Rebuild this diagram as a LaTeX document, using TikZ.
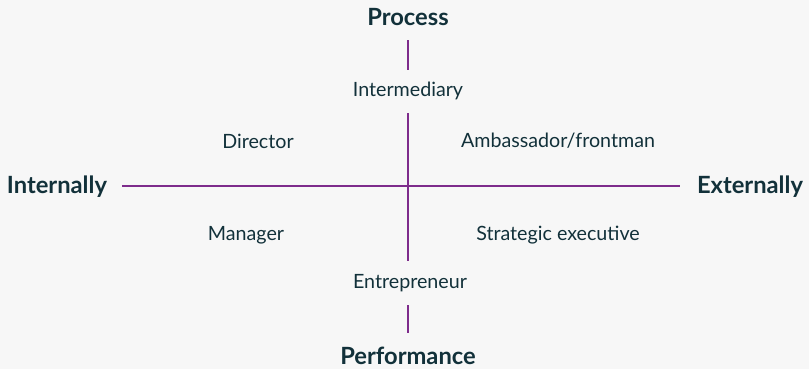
\documentclass[tikz,border=0pt]{standalone}
\usepackage{fontspec}
\setmainfont{Lato}
\usepackage{xcolor}
\usetikzlibrary{positioning,calc}
\definecolor{bgGrey}{HTML}{F7F7F7}
\definecolor{inkTeal}{HTML}{12313A}
\definecolor{axisPurple}{HTML}{7E2C8C}

\begin{document}
\begin{tikzpicture}[x=0.02cm, y=-0.02cm,
    role/.style={text=inkTeal, font=\fontsize{11.2}{13}\selectfont, inner sep=1pt},
    pole/.style={text=inkTeal, font=\fontsize{13.5}{15}\selectfont\bfseries, inner sep=1pt},
    axis/.style={draw=axisPurple, line width=1.7pt}]
    \fill[bgGrey] (0,0) rectangle (809,369);
    \useasboundingbox (0,0) rectangle (809,369);
    % poles
    \node[pole] (process) at (408,17) {Process};
    \node[pole] (performance) at (408,356) {Performance};
    \node[pole] (internally) at (57,187) {Internally};
    \node[pole] (externally) at (750,187) {Externally};
    % roles
    \node[role] (intermediary) at (408,91) {Intermediary};
    \node[role] (entrepreneur) at (410,283) {Entrepreneur};
    \node[role] (director) at (258,141) {Director};
    \node[role] (ambassador) at (558,141) {Ambassador/frontman};
    \node[role] (manager) at (246,235) {Manager};
    \node[role] (strategic) at (558,235) {Strategic executive};
    % axes
    \coordinate (topA) at (408,40);
    \coordinate (topB) at (408,70);
    \coordinate (botA) at (408,305);
    \coordinate (botB) at (408,333);
    \coordinate (midA) at (408,113);
    \coordinate (midB) at (408,261);
    \coordinate (leftEnd) at (122,186);
    \coordinate (rightEnd) at (680,186);
    \draw[axis] (topA) -- (topB);
    \draw[axis] (botA) -- (botB);
    \draw[axis] (midA) -- (midB);
    \draw[axis] (leftEnd) -- (rightEnd);
\end{tikzpicture}
\end{document}
